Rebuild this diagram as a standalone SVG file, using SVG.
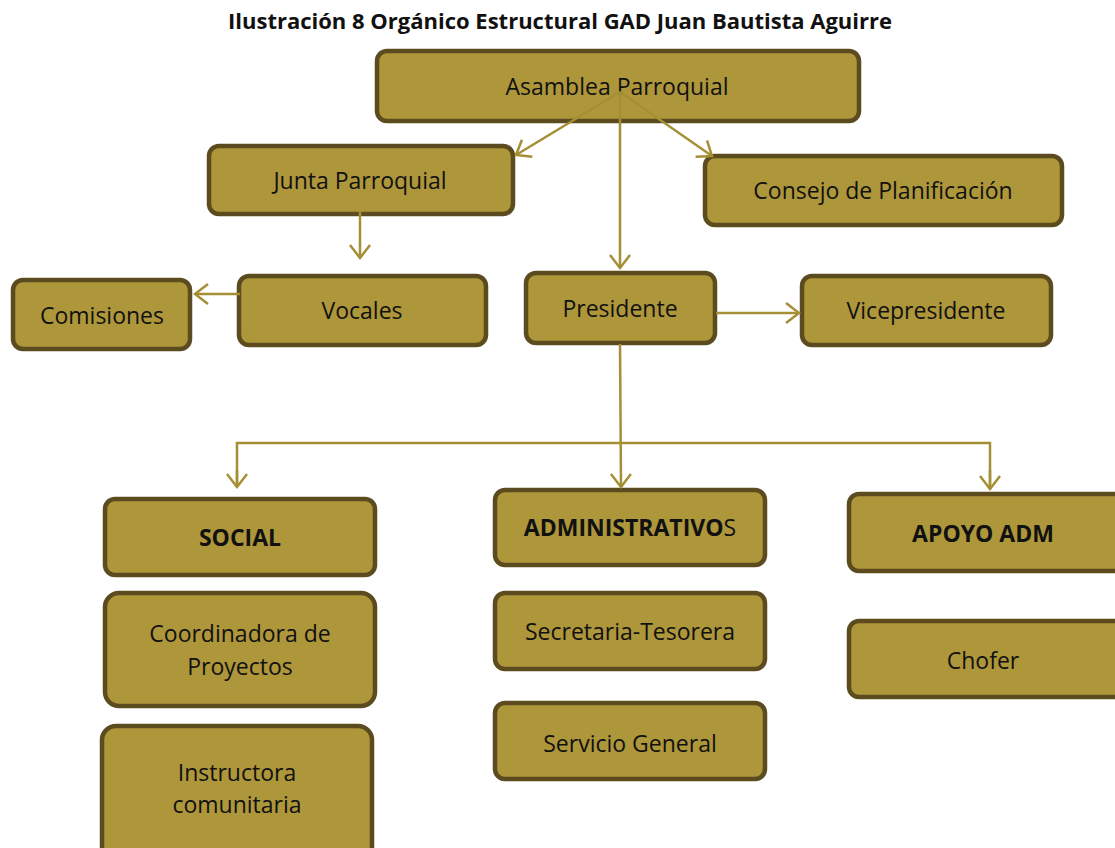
<svg xmlns="http://www.w3.org/2000/svg" width="1115" height="848" viewBox="0 0 1115 848">
<style>
.box{fill:#ae963a;stroke:#5b4b1f;stroke-width:4.5}
.t{font-family:"Open Sans","Liberation Sans",sans-serif;font-size:23px;fill:#111;text-anchor:middle}
.b{font-weight:bold}
.title{font-family:"Open Sans","Liberation Sans",sans-serif;font-size:22px;font-weight:bold;fill:#111;text-anchor:middle}
.c{fill:none;stroke:#a58f35;stroke-width:2.5}
</style>
<defs>
<marker id="ah" markerUnits="userSpaceOnUse" markerWidth="30" markerHeight="30" refX="14" refY="11" orient="auto">
<path d="M1,1 L14,11 L1,21" fill="none" stroke="#a58f35" stroke-width="2.5"/>
</marker>
</defs>
<rect width="1115" height="848" fill="#fff"/>
<text class="title" x="560" y="29">Ilustración 8 Orgánico Estructural GAD Juan Bautista Aguirre</text>

<g id="asamblea"><rect class="box" x="377" y="51" width="482" height="70" rx="10"/><text class="t" x="617" y="95">Asamblea Parroquial</text></g>
<g id="junta"><rect class="box" x="209" y="146" width="304" height="68" rx="10"/><text class="t" x="360" y="189">Junta Parroquial</text></g>
<g id="consejo"><rect class="box" x="705" y="156" width="357" height="69" rx="10"/><text class="t" x="883" y="199">Consejo de Planificación</text></g>
<g id="comisiones"><rect class="box" x="13" y="280" width="177" height="69" rx="10"/><text class="t" x="102" y="324">Comisiones</text></g>
<g id="vocales"><rect class="box" x="239" y="276" width="247" height="69" rx="10"/><text class="t" x="362" y="319">Vocales</text></g>
<g id="presidente"><rect class="box" x="526" y="273" width="189" height="70" rx="10"/><text class="t" x="620" y="317">Presidente</text></g>
<g id="vicepresidente"><rect class="box" x="802" y="276" width="249" height="69" rx="10"/><text class="t" x="926" y="319">Vicepresidente</text></g>
<g id="social"><rect class="box" x="105" y="499" width="270" height="76" rx="10"/><text class="t b" x="240" y="546">SOCIAL</text></g>
<g id="administrativos"><rect class="box" x="495" y="490" width="270" height="75" rx="10"/><text class="t" x="630" y="536"><tspan class="b">ADMINISTRATIVO</tspan>S</text></g>
<g id="apoyo"><rect class="box" x="849" y="494" width="275" height="77" rx="10"/><text class="t b" x="983" y="542">APOYO ADM</text></g>
<g id="coordinadora"><rect class="box" x="105" y="593" width="270" height="113" rx="14"/><text class="t" x="240" y="642">Coordinadora de</text><text class="t" x="240" y="675">Proyectos</text></g>
<g id="instructora"><rect class="box" x="102" y="726" width="270" height="140" rx="14"/><text class="t" x="237" y="781">Instructora</text><text class="t" x="237" y="813">comunitaria</text></g>
<g id="secretaria"><rect class="box" x="495" y="593" width="270" height="76" rx="10"/><text class="t" x="630" y="640">Secretaria-Tesorera</text></g>
<g id="servicio"><rect class="box" x="495" y="703" width="270" height="76" rx="10"/><text class="t" x="630" y="752">Servicio General</text></g>
<g id="chofer"><rect class="box" x="849" y="621" width="275" height="76" rx="10"/><text class="t" x="983" y="669">Chofer</text></g>

<g id="connectors">
<line class="c" x1="620" y1="92" x2="516" y2="155" marker-end="url(#ah)"/>
<line class="c" x1="620" y1="92" x2="712" y2="156" marker-end="url(#ah)"/>
<line class="c" x1="620" y1="92" x2="620" y2="268" marker-end="url(#ah)"/>
<line class="c" x1="360" y1="210" x2="360" y2="258" marker-end="url(#ah)"/>
<line class="c" x1="240" y1="294" x2="195" y2="294" marker-end="url(#ah)"/>
<line class="c" x1="716" y1="313" x2="799" y2="313" marker-end="url(#ah)"/>
<line class="c" x1="620" y1="344" x2="621" y2="487" marker-end="url(#ah)"/>
<polyline class="c" points="237,487 237,443 990,443 990,489"/>
<line class="c" x1="237" y1="470" x2="237" y2="487" marker-end="url(#ah)"/>
<line class="c" x1="990" y1="470" x2="990" y2="489" marker-end="url(#ah)"/>
</g>
</svg>
